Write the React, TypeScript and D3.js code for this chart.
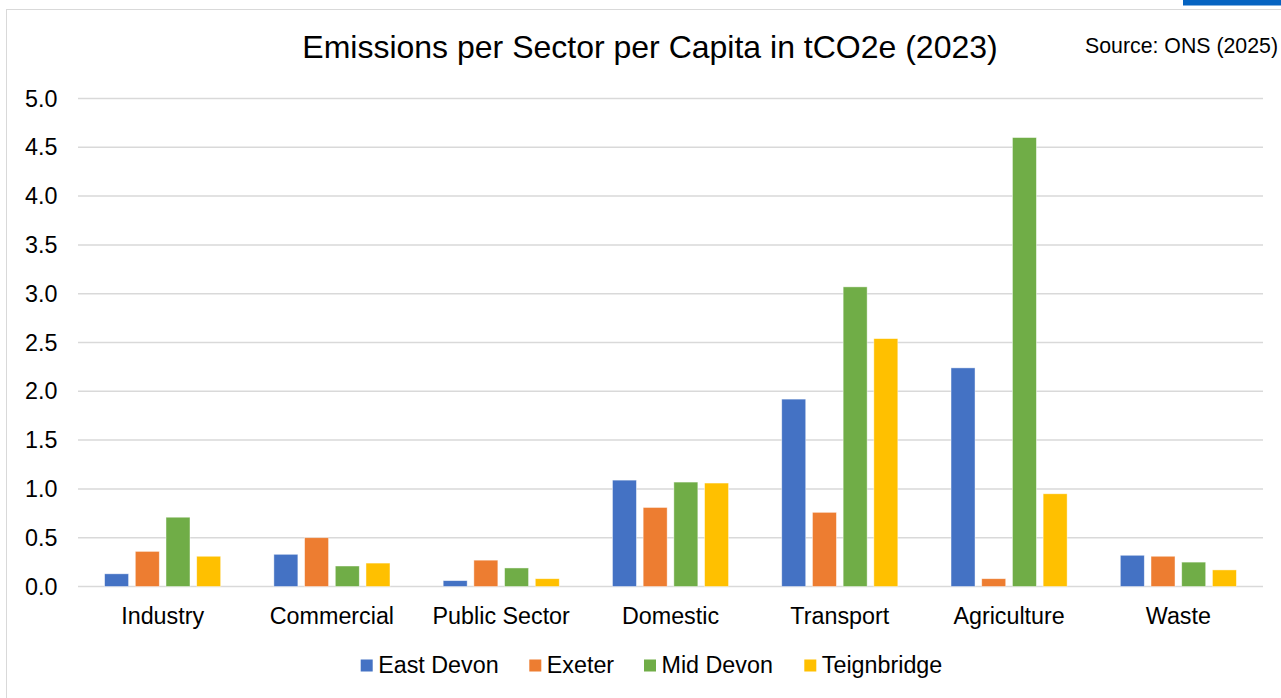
import React from "react";
import * as d3 from "d3";

const categories = ["Industry", "Commercial", "Public Sector", "Domestic", "Transport", "Agriculture", "Waste"];
const seriesNames = ["East Devon", "Exeter", "Mid Devon", "Teignbridge"];
const eastDevon = [0.13, 0.33, 0.06, 1.09, 1.92, 2.24, 0.32];
const exeter = [0.36, 0.5, 0.27, 0.81, 0.76, 0.08, 0.31];
const midDevon = [0.71, 0.21, 0.19, 1.07, 3.07, 4.6, 0.25];
const teignbridge = [0.31, 0.24, 0.08, 1.06, 2.54, 0.95, 0.17];
const colors = ["#4472C4", "#ED7D31", "#70AD47", "#FFC000"];
const yTicks = [0, 0.5, 1, 1.5, 2, 2.5, 3, 3.5, 4, 4.5, 5];

const W = 1281;
const H = 698;
const FONT = "'Liberation Sans', Arial, sans-serif";

export default function App() {
  const seriesValues = [eastDevon, exeter, midDevon, teignbridge];
  const x = d3.scaleBand<string>().domain(categories).range([78, 1263]).paddingInner(0).paddingOuter(0);
  const y = d3.scaleLinear().domain([0, 5]).range([586.5, 98.5]);
  const bw = x.bandwidth();
  const barW = 24;
  const step = 30.7;
  const groupW = step * 3 + barW;

  const legendX = [360.7, 529.3, 644, 804.3];

  return (
    <svg width={W} height={H} style={{ position: "absolute", left: 0, top: 0, background: "#fff" }} fontFamily={FONT}>
      <rect x={0} y={0} width={W} height={H} fill="#fff" />
      <rect x={6.5} y={9.5} width={W + 10} height={H + 10} fill="none" stroke="#d9d9d9" strokeWidth={1} />
      <rect x={1183} y={0} width={98} height={5.5} fill="#0563C1" />
      {yTicks.map((t) => (
        <g key={t}>
          <line x1={78} x2={1263} y1={y(t)} y2={y(t)} stroke="#d9d9d9" strokeWidth={1.5} />
          <text x={57.5} y={y(t) + 8} textAnchor="end" fontSize={23.3} fill="#000">
            {d3.format(".1f")(t)}
          </text>
        </g>
      ))}
      {categories.map((c, i) => {
        const x0 = (x(c) as number) + (bw - groupW) / 2;
        return (
          <g key={c}>
            {seriesValues.map((vals, s) => (
              <rect
                key={s}
                x={x0 + s * step}
                y={y(vals[i])}
                width={barW}
                height={y(0) - y(vals[i])}
                fill={colors[s]}
                stroke="#ffffff"
                strokeOpacity={0.6}
                strokeWidth={0.75}
              />
            ))}
            <text x={(x(c) as number) + bw / 2} y={623.5} textAnchor="middle" fontSize={23.3} fill="#000">
              {c}
            </text>
          </g>
        );
      })}
      <text x={650} y={57.5} textAnchor="middle" fontSize={32} fill="#000">
        Emissions per Sector per Capita in tCO2e (2023)
      </text>
      <text x={1278} y={53} textAnchor="end" fontSize={21.3} fill="#000">
        Source: ONS (2025)
      </text>
      {seriesNames.map((n, s) => (
        <g key={n}>
          <rect x={legendX[s]} y={659.5} width={12} height={12} fill={colors[s]} />
          <text x={legendX[s] + 17.5} y={673.3} fontSize={23.3} fill="#000">
            {n}
          </text>
        </g>
      ))}
    </svg>
  );
}
